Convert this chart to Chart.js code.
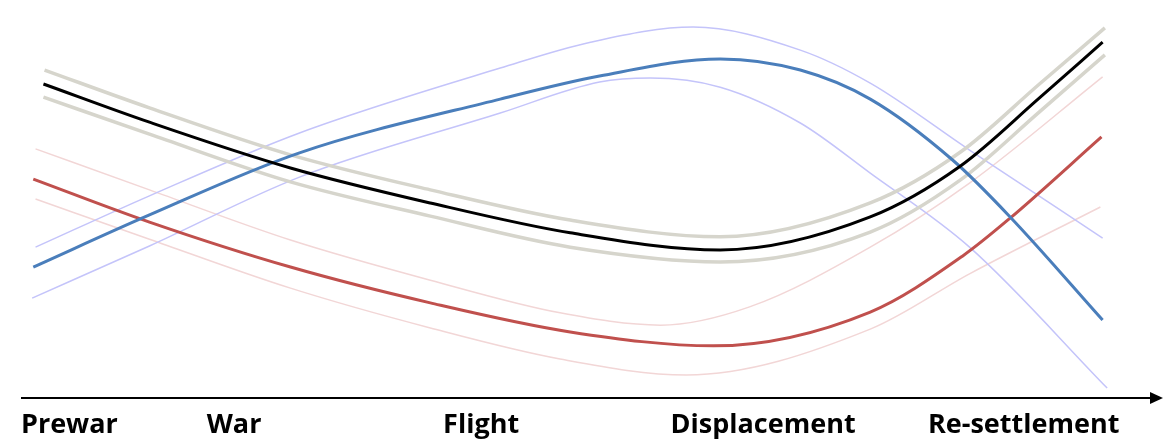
<!DOCTYPE html>
<html>
<head>
<meta charset="utf-8">
<script src="https://cdn.jsdelivr.net/npm/chart.js@4.4.1/dist/chart.umd.min.js"></script>
<style>
  html, body { margin: 0; padding: 0; background: #fff; }
  #wrap { width: 1170px; height: 443px; }
</style>
</head>
<body>
<div id="wrap"><canvas id="grafico"></canvas></div>
<script>
// Etapas no eixo x (posição 0-100 ao longo da linha do tempo)
const etapas = ['Prewar', 'War', 'Flight', 'Displacement', 'Re-settlement'];
const posicoesEtapas = [4.2, 18.8, 40.7, 65.7, 88.8];

// Curvas principais: pares [posição, nível]
const linhaPreta = [[1.9, 78.9], [11.3, 69.3], [23.8, 57.8], [36.2, 49.0], [48.6, 41.5], [61.9, 37.2], [75.2, 45.5], [83.2, 58.3], [90.2, 75.4], [95.8, 89.4]];
const linhaAzul = [[1.0, 32.9], [11.3, 46.0], [24.6, 61.6], [42.4, 75.1], [51.2, 80.9], [61.9, 85.2], [69.0, 82.4], [75.2, 75.1], [82.5, 59.8], [87.6, 45.5], [95.8, 19.6]];
const linhaVermelha = [[1.0, 55.0], [11.3, 44.2], [23.8, 32.9], [36.2, 23.9], [48.6, 16.6], [61.3, 13.1], [75.2, 21.6], [83.4, 35.7], [87.6, 45.2], [95.7, 65.6]];

// Faixas (limites superior / inferior)
const faixaPretaSup = [[2.0, 82.4], [11.3, 72.9], [23.8, 61.1], [36.2, 52.3], [48.6, 44.7], [61.9, 40.5], [75.2, 49.0], [83.2, 61.8], [90.2, 78.9], [96.0, 93.0]];
const faixaPretaInf = [[1.9, 75.6], [11.3, 66.3], [23.8, 54.3], [36.2, 45.7], [48.6, 37.9], [61.9, 34.2], [75.2, 41.7], [83.2, 54.8], [90.2, 71.9], [96.0, 86.2]];
const faixaAzulSup = [[1.2, 37.9], [11.3, 50.8], [24.6, 66.6], [42.4, 82.9], [50.4, 89.4], [59.5, 93.2], [69.0, 87.4], [75.2, 79.1], [84.0, 62.3], [95.8, 40.2]];
const faixaAzulInf = [[0.9, 25.1], [11.3, 38.2], [24.6, 55.5], [42.4, 71.6], [51.2, 79.4], [55.7, 80.4], [61.9, 78.1], [69.0, 69.1], [75.2, 56.5], [84.0, 37.9], [96.2, 2.5]];
const faixaVermelhaSup = [[1.2, 62.6], [11.3, 52.3], [23.8, 39.7], [36.2, 29.6], [47.7, 21.4], [56.6, 18.3], [64.5, 22.9], [75.2, 37.9], [84.0, 54.0], [95.8, 80.7]];
const faixaVermelhaInf = [[1.2, 50.0], [11.3, 39.9], [23.8, 27.6], [36.2, 17.6], [47.7, 9.8], [58.9, 5.8], [75.2, 17.3], [84.0, 31.2], [95.6, 48.0]];

function paraPontos(pares) {
  return pares.map(p => ({ x: p[0], y: p[1] }));
}

function serie(pares, cor, espessura) {
  return {
    data: paraPontos(pares),
    borderColor: cor,
    borderWidth: espessura,
    pointRadius: 0,
    fill: false,
    cubicInterpolationMode: 'monotone'
  };
}

// Seta no fim do eixo x
const setaEixo = {
  id: 'setaEixo',
  afterDraw(chart) {
    const { ctx, chartArea } = chart;
    const y = chartArea.bottom;
    const x = chartArea.right;
    ctx.save();
    ctx.fillStyle = '#000';
    ctx.beginPath();
    ctx.moveTo(x, y - 6);
    ctx.lineTo(x + 13, y);
    ctx.lineTo(x, y + 6);
    ctx.closePath();
    ctx.fill();
    ctx.restore();
  }
};

new Chart(document.getElementById('grafico').getContext('2d'), {
  type: 'line',
  data: {
    datasets: [
      serie(linhaPreta, '#000000', 3),
      serie(linhaAzul, '#4a7ebb', 3),
      serie(linhaVermelha, '#c0504d', 3),
      serie(faixaPretaSup, '#d6d5cc', 3.5),
      serie(faixaPretaInf, '#d6d5cc', 3.5),
      serie(faixaAzulSup, '#c4c4fa', 1.5),
      serie(faixaAzulInf, '#c4c4fa', 1.5),
      serie(faixaVermelhaSup, '#f2d6d6', 1.5),
      serie(faixaVermelhaInf, '#f2d6d6', 1.5)
    ]
  },
  options: {
    responsive: true,
    maintainAspectRatio: false,
    animation: false,
    layout: { padding: { left: 22, right: 20, top: 0, bottom: 0 } },
    plugins: { legend: { display: false }, tooltip: { enabled: false } },
    scales: {
      x: {
        type: 'linear',
        min: 0,
        max: 100,
        grid: { display: false, drawTicks: false },
        border: { display: true, color: '#000', width: 2 },
        afterBuildTicks: (escala) => {
          escala.ticks = posicoesEtapas.map(v => ({ value: v }));
        },
        afterFit: (escala) => {
          escala.height = 45;
        },
        ticks: {
          autoSkip: false,
          maxRotation: 0,
          padding: 11,
          color: '#000',
          font: { family: 'Open Sans', size: 27, weight: 'bold' },
          callback: (valor, indice) => etapas[indice]
        }
      },
      y: {
        display: false,
        min: 0,
        max: 100
      }
    }
  },
  plugins: [setaEixo]
});
</script>
</body>
</html>
